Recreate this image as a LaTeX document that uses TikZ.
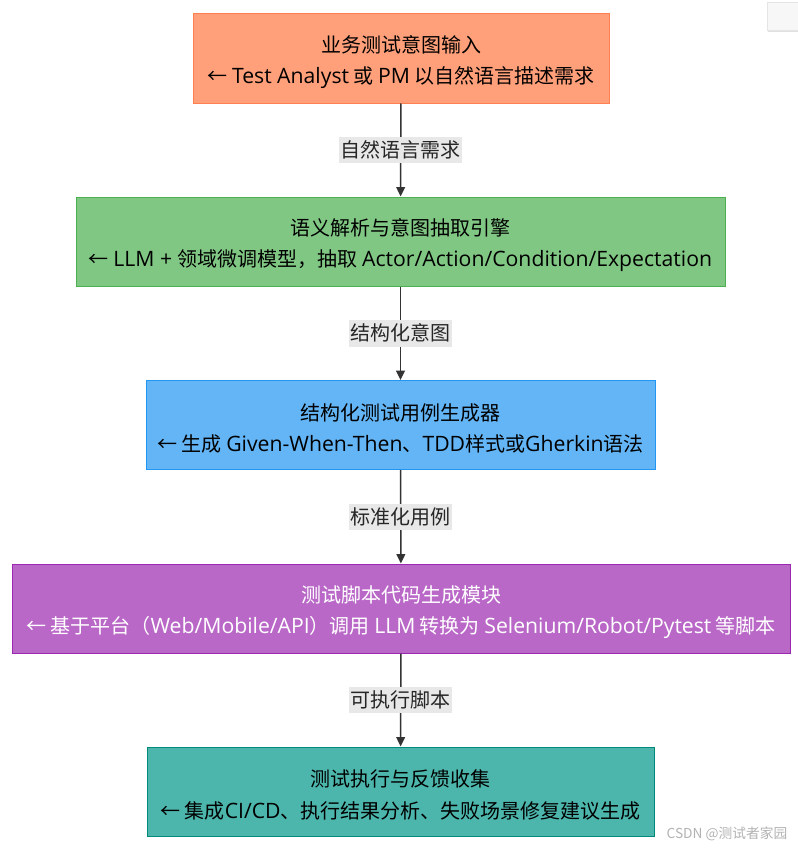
\documentclass[tikz,border=0pt]{standalone}
\usepackage{fontspec}
\setmainfont{Noto Sans CJK SC}
\newfontfamily\latfont{Open Sans}[Scale=1.06]
\newcommand{\lt}[1]{{\latfont #1}}
\newcommand{\tp}{\rule{0pt}{17.7pt}}
\usetikzlibrary{arrows.meta}
\definecolor{c1f}{HTML}{FFA07A}\definecolor{c1d}{HTML}{FF7F50}
\definecolor{c2f}{HTML}{81C784}\definecolor{c2d}{HTML}{4CAF50}
\definecolor{c3f}{HTML}{64B5F6}\definecolor{c3d}{HTML}{2196F3}
\definecolor{c4f}{HTML}{BA68C8}\definecolor{c4d}{HTML}{9C27B0}
\definecolor{c5f}{HTML}{4DB6AC}\definecolor{c5d}{HTML}{00897B}
\definecolor{lbl}{HTML}{E8E8E8}
\definecolor{arr}{HTML}{333333}
\tikzset{
  stage/.style={draw, line width=0.75pt, align=center, inner sep=0pt,
    minimum height=66.75pt, font=\fontsize{15}{23.5}\selectfont, text=black},
  elabel/.style={fill=lbl, inner xsep=1pt, inner ysep=3pt, font=\fontsize{15}{17}\selectfont, text=black!85},
  flow/.style={arr, line width=1.1pt, -{Triangle[length=7pt,width=6.5pt]}}
}
\begin{document}
\begin{tikzpicture}[x=0.75pt,y=-0.75pt]
\useasboundingbox (0,0) rectangle (798,849);
\node[stage, fill=c1f, draw=c1d, minimum width=312pt] (b1) at (401,58.5)
  {\tp 业务测试意图输入\\← \lt{Test Analyst} 或 \lt{PM} 以自然语言描述需求};
\node[stage, fill=c2f, draw=c2d, minimum width=486.75pt] (b2) at (400.5,241.5)
  {\tp 语义解析与意图抽取引擎\\← \lt{LLM + }领域微调模型，抽取 \lt{Actor/Action/Condition/Expectation}};
\node[stage, fill=c3f, draw=c3d, minimum width=381.75pt] (b3) at (400.5,425)
  {\tp 结构化测试用例生成器\\← 生成 \lt{Given-When-Then}、\lt{TDD}样式或\lt{Gherkin}语法};
\node[stage, fill=c4f, draw=c4d, minimum width=583.5pt, text=white] (b4) at (401,608.5)
  {\tp 测试脚本代码生成模块\\← 基于平台（\lt{Web/Mobile/API}）调用 \lt{LLM} 转换为 \lt{Selenium/Robot/Pytest} 等脚本};
\node[stage, fill=c5f, draw=c5d, minimum width=380.25pt] (b5) at (400.5,791.5)
  {\tp 测试执行与反馈收集\\← 集成\lt{CI/CD}、执行结果分析、失败场景修复建议生成};
\draw[flow] (b1) -- node[elabel] {自然语言需求} (b2);
\draw[flow] (b2) -- node[elabel] {结构化意图} (b3);
\draw[flow] (b3) -- node[elabel] {标准化用例} (b4);
\draw[flow] (b4) -- node[elabel] {可执行脚本} (b5);
\fill[black!12] (768,4) rectangle (799,32);
\filldraw[fill=black!3, draw=black!10, line width=0.5pt] (767,2) rectangle (798,30);
\node[text=black!30, font=\fontsize{10.3}{12}\selectfont, anchor=east] (wm) at (792,834) {CSDN @测试者家园};
\end{tikzpicture}
\end{document}
